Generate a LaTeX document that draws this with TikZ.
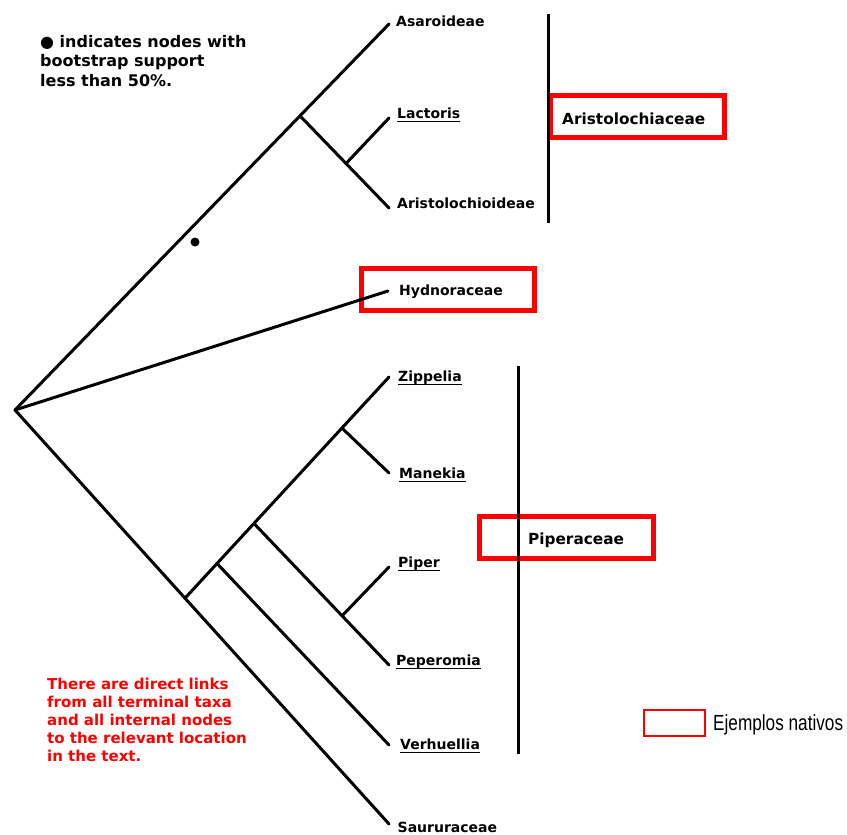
\documentclass[tikz,border=0pt]{standalone}
\usepackage{fontspec}
\setmainfont{DejaVu Sans}
\newfontfamily\narrowfont{Liberation Sans}
\usepackage{graphicx}
\begin{document}
\begin{tikzpicture}[x=1pt,y=-1pt,
  branch/.style={line width=3pt, line cap=round},
  bar/.style={line width=3pt},
  tiplbl/.style={font=\fontsize{14}{16}\selectfont\bfseries, inner sep=0pt, anchor=base west},
  famlbl/.style={font=\fontsize{15.3}{18}\selectfont\bfseries, inner sep=0pt, anchor=base west},
  leglbl/.style={font=\fontsize{16}{19}\selectfont\bfseries, inner sep=0pt, anchor=base west},
  notelbl/.style={font=\fontsize{15}{18}\selectfont\bfseries, text=red, inner sep=0pt, anchor=base west},
  redbox/.style={draw=red, line width=5pt},
  ul/.style={line width=1.8pt}]
\useasboundingbox (0,0) rectangle (847,835);

% red boxes (below the tree)
\draw[redbox] (550.5,95.5) rectangle (724.5,137.5);
\draw[redbox] (361.5,268.5) rectangle (534.5,310.5);
\draw[redbox] (479.5,516.5) rectangle (653.5,558.5);

% tree points
\coordinate (R) at (15,410);
\coordinate (TA) at (389,24);
\coordinate (N1) at (300,115.85);
\coordinate (TAr) at (389,208);
\coordinate (N2) at (346,163.55);
\coordinate (TL) at (389,118);
\coordinate (TH) at (388,291);
\coordinate (TS) at (389,824);
\coordinate (N3) at (185,598.2);
\coordinate (TZ) at (389,377);
\coordinate (N4) at (217,563.5);
\coordinate (N5) at (254,523.5);
\coordinate (N6) at (342,428.1);
\coordinate (TM) at (389,473);
\coordinate (TV) at (389,745);
\coordinate (TP) at (389,665);
\coordinate (N7) at (342,615.9);
\coordinate (TPi) at (389,567);

% branches
\draw[branch] (R) -- (TA);
\draw[branch] (N1) -- (TAr);
\draw[branch] (N2) -- (TL);
\draw[branch] (R) -- (TH);
\draw[branch] (R) -- (TS);
\draw[branch] (N3) -- (TZ);
\draw[branch] (N6) -- (TM);
\draw[branch] (N4) -- (TV);
\draw[branch] (N5) -- (TP);
\draw[branch] (N7) -- (TPi);

% bootstrap dot
\fill (195,242) circle (4.5pt);

% family bars
\coordinate (B1t) at (548,14);
\coordinate (B1b) at (548,223);
\coordinate (B2t) at (518,366);
\coordinate (B2b) at (518,754);
\draw[bar] (B1t) -- (B1b);
\draw[bar] (B2t) -- (B2b);

% tip labels
\node[tiplbl] (lA) at (396,27) {Asaroideae};
\node[tiplbl] (lL) at (397,118) {Lactoris};
\node[tiplbl] (lAr) at (397,208) {Aristolochioideae};
\node[tiplbl] (lH) at (399,295) {Hydnoraceae};
\node[tiplbl] (lZ) at (398,381) {Zippelia};
\node[tiplbl] (lM) at (399,478) {Manekia};
\node[tiplbl] (lPi) at (398,567) {Piper};
\node[tiplbl] (lP) at (396,665) {Peperomia};
\node[tiplbl] (lV) at (400,749) {Verhuellia};
\node[tiplbl] (lS) at (397.5,832) {Saururaceae};

% underlines
\foreach \n in {lL,lZ,lM,lPi,lP,lV}{
  \draw[ul] ([yshift=-3.5pt]\n.base west) -- ([yshift=-3.5pt]\n.base east);
}

% family labels
\node[famlbl] (fAr) at (562,124) {Aristolochiaceae};
\node[famlbl] (fPi) at (528,544) {Piperaceae};

% legend text top-left
\node[leglbl] (leg1) at (40,47) {● indicates nodes with};
\node[leglbl] (leg2) at (40,66.5) {bootstrap support};
\node[leglbl] (leg3) at (40,86) {less than 50\%.};

% red note
\node[notelbl] (n1) at (47,689) {There are direct links};
\node[notelbl] (n2) at (47,707) {from all terminal taxa};
\node[notelbl] (n3) at (47,725) {and all internal nodes};
\node[notelbl] (n4) at (47,743) {to the relevant location};
\node[notelbl] (n5) at (47,761) {in the text.};

% legend box
\draw[draw=red, line width=2pt] (644,710) rectangle (705,736);
\node[inner sep=0pt, anchor=base west] (ej) at (713,730)
  {\scalebox{0.785}[1]{\narrowfont\fontsize{21.9}{24}\selectfont Ejemplos nativos}};
\end{tikzpicture}
\end{document}
